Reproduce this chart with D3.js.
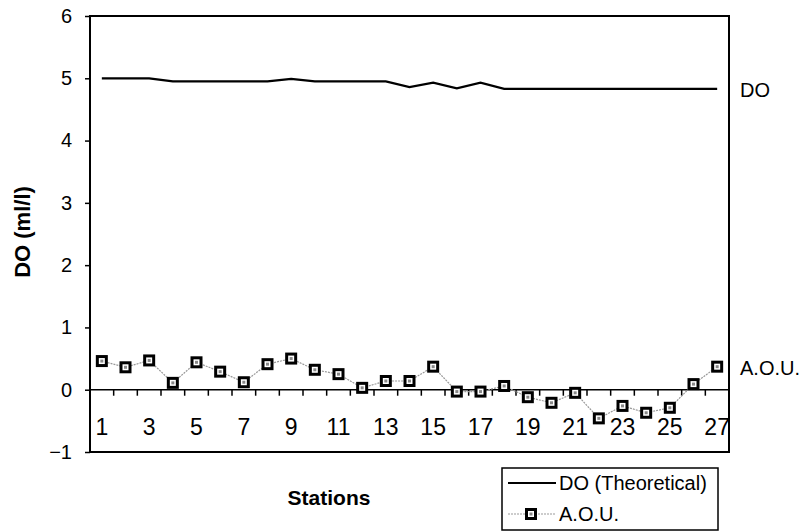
<!DOCTYPE html>
<html>
<head>
<meta charset="utf-8">
<script src="https://cdn.jsdelivr.net/npm/d3@7"></script>
<style>
  html, body { margin: 0; padding: 0; background: #fff; }
  svg { display: block; font-family: "Liberation Sans", Arial, sans-serif; }
</style>
</head>
<body>
<svg id="chart" width="803" height="532"></svg>
<script>
const stations = d3.range(1, 28).map(String);
const doTheoretical = [5.0, 5.0, 5.0, 4.95, 4.95, 4.95, 4.95, 4.95, 4.99, 4.95, 4.95, 4.95, 4.95, 4.86, 4.93, 4.84, 4.93, 4.83, 4.83, 4.83, 4.83, 4.83, 4.83, 4.83, 4.83, 4.83, 4.83];
const aou = [0.46, 0.36, 0.47, 0.11, 0.44, 0.29, 0.12, 0.41, 0.50, 0.32, 0.25, 0.03, 0.14, 0.14, 0.37, -0.03, -0.03, 0.06, -0.12, -0.21, -0.05, -0.46, -0.26, -0.37, -0.29, 0.09, 0.37];
const yTicks = [-1, 0, 1, 2, 3, 4, 5, 6];
const xTickLabels = stations.filter((d, i) => i % 2 === 0);

const svg = d3.select("#chart");
const m = { left: 90, top: 16, right: 729, bottom: 452 };

const x = d3.scaleBand().domain(stations).range([m.left, m.right]).padding(0);
const y = d3.scaleLinear().domain([-1, 6]).range([m.bottom, m.top]);
const cx = d => x(d) + x.bandwidth() / 2;

// plot frame
svg.append("rect")
  .attr("x", m.left).attr("y", m.top)
  .attr("width", m.right - m.left).attr("height", m.bottom - m.top)
  .attr("fill", "none").attr("stroke", "#000").attr("stroke-width", 2);

// y axis
const yAxis = svg.append("g").attr("transform", `translate(${m.left},0)`)
  .call(d3.axisLeft(y).tickValues(yTicks).tickSize(5).tickPadding(13).tickFormat(d3.format("d")));
yAxis.select(".domain").remove();
yAxis.selectAll("line").attr("stroke", "#000").attr("stroke-width", 1.5);
yAxis.selectAll("text").attr("font-size", 20).attr("fill", "#000")
  .attr("font-family", "'Liberation Sans', Arial, sans-serif");

// zero line with category-boundary ticks
svg.append("line")
  .attr("x1", m.left).attr("x2", m.right)
  .attr("y1", y(0)).attr("y2", y(0))
  .attr("stroke", "#000").attr("stroke-width", 1.5);
const boundaries = stations.slice(1);
svg.append("g").selectAll("line").data(boundaries).join("line")
  .attr("x1", d => x(d)).attr("x2", d => x(d))
  .attr("y1", y(0)).attr("y2", y(0) + 6)
  .attr("stroke", "#000").attr("stroke-width", 1.5);

// x tick labels (odd stations)
svg.append("g").selectAll("text").data(xTickLabels).join("text")
  .attr("x", d => cx(d)).attr("y", y(0) + 45)
  .attr("text-anchor", "middle").attr("font-size", 23).attr("fill", "#000")
  .text(d => d);

// DO theoretical line
const lineDO = d3.line().x((d, i) => cx(stations[i])).y(d => y(d));
svg.append("path").datum(doTheoretical)
  .attr("d", lineDO).attr("fill", "none")
  .attr("stroke", "#000").attr("stroke-width", 2.2);

// AOU line
const lineAOU = d3.line().x((d, i) => cx(stations[i])).y(d => y(d));
svg.append("path").datum(aou)
  .attr("d", lineAOU).attr("fill", "none")
  .attr("stroke", "#999").attr("stroke-width", 1.2).attr("stroke-dasharray", "2,1");

// AOU markers
function marker(g, px, py) {
  g.append("rect").attr("x", px - 4.5).attr("y", py - 4.5).attr("width", 9).attr("height", 9)
    .attr("fill", "#fff").attr("stroke", "#000").attr("stroke-width", 3);
  g.append("rect").attr("x", px - 1.5).attr("y", py - 1.5).attr("width", 3).attr("height", 3)
    .attr("fill", "#888");
}
const mg = svg.append("g");
aou.forEach((v, i) => marker(mg, cx(stations[i]), y(v)));

// right-side labels
svg.append("text").attr("x", 740).attr("y", y(doTheoretical[26]) + 8)
  .attr("font-size", 20).attr("fill", "#000").text("DO");
svg.append("text").attr("x", 740).attr("y", y(aou[26]) + 8)
  .attr("font-size", 20).attr("fill", "#000").text("A.O.U.");

// axis titles
svg.append("text")
  .attr("transform", `translate(30,232) rotate(-90)`)
  .attr("text-anchor", "middle").attr("font-size", 22).attr("font-weight", "bold")
  .text("DO (ml/l)");
svg.append("text")
  .attr("x", 329).attr("y", 505)
  .attr("text-anchor", "middle").attr("font-size", 21).attr("font-weight", "bold")
  .text("Stations");

// legend
const lg = svg.append("g");
lg.append("rect").attr("x", 502).attr("y", 468).attr("width", 216).attr("height", 62)
  .attr("fill", "#fff").attr("stroke", "#000").attr("stroke-width", 1.5);
lg.append("line").attr("x1", 508).attr("x2", 556).attr("y1", 483).attr("y2", 483)
  .attr("stroke", "#000").attr("stroke-width", 2);
lg.append("text").attr("x", 559).attr("y", 490).attr("font-size", 20).text("DO (Theoretical)");
lg.append("line").attr("x1", 508).attr("x2", 556).attr("y1", 514).attr("y2", 514)
  .attr("stroke", "#999").attr("stroke-width", 1.2).attr("stroke-dasharray", "2,1");
marker(lg, 531, 514);
lg.append("text").attr("x", 559).attr("y", 521).attr("font-size", 20).text("A.O.U.");
</script>
</body>
</html>
